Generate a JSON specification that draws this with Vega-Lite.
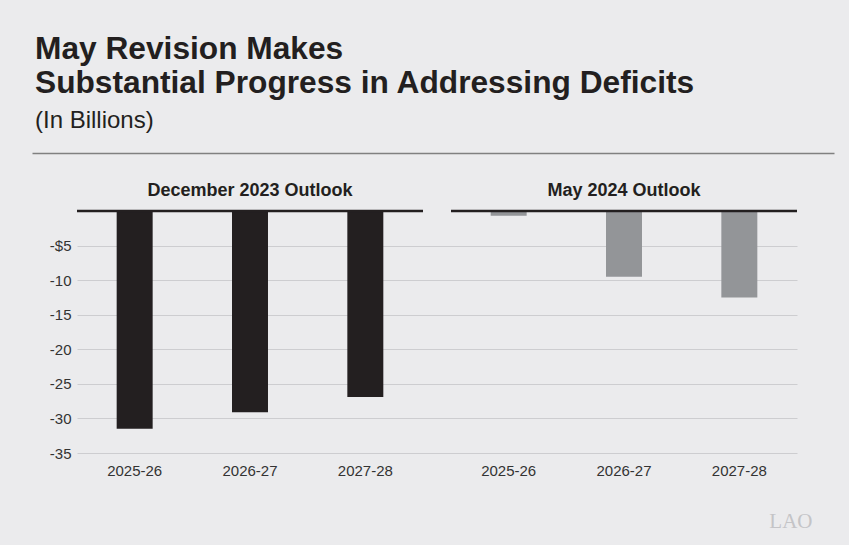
{
  "$schema": "https://vega.github.io/schema/vega-lite/v6.json",
  "width": 720,
  "height": 242,
  "autosize": {"type": "none"},
  "padding": {"left": 77, "top": 211, "right": 52, "bottom": 92},
  "background": "#ebebed",
  "config": {
    "view": {"stroke": null},
    "font": "Liberation Sans"
  },
  "title": {
    "text": ["May Revision Makes", "Substantial Progress in Addressing Deficits"],
    "subtitle": "(In Billions)",
    "anchor": "start",
    "frame": "bounds",
    "font": "Liberation Sans",
    "fontSize": 31.7,
    "fontWeight": "bold",
    "color": "#231f20",
    "lineHeight": 34,
    "subtitleFont": "Liberation Sans",
    "subtitleFontSize": 24,
    "subtitleColor": "#231f20",
    "subtitlePadding": 9,
    "offset": 20,
    "dx": 3
  },
  "datasets": {
    "bars": [
      {"outlook": "December 2023 Outlook", "year": "2025-26", "deficit": -31.5},
      {"outlook": "December 2023 Outlook", "year": "2026-27", "deficit": -29.1},
      {"outlook": "December 2023 Outlook", "year": "2027-28", "deficit": -26.9},
      {"outlook": "May 2024 Outlook", "year": "2025-26", "deficit": -0.7},
      {"outlook": "May 2024 Outlook", "year": "2026-27", "deficit": -9.5},
      {"outlook": "May 2024 Outlook", "year": "2027-28", "deficit": -12.5}
    ],
    "panels": [
      {"outlook": "December 2023 Outlook"},
      {"outlook": "May 2024 Outlook"}
    ],
    "one": [{"k": 1}]
  },
  "resolve": {"scale": {"x": "independent"}, "axis": {"x": "independent"}},
  "layer": [
    {
      "layer": [
        {
          "data": {"name": "bars"},
          "mark": {"type": "bar"},
          "encoding": {
            "x": {
              "field": "outlook",
              "type": "nominal",
              "sort": ["December 2023 Outlook", "May 2024 Outlook"],
              "scale": {"paddingInner": 0.0749, "paddingOuter": 0},
              "axis": {
                "orient": "top",
                "title": null,
                "domain": false,
                "ticks": false,
                "labelAngle": 0,
                "labelLimit": 0,
                "labelFont": "Liberation Sans",
                "labelFontSize": 18,
                "labelFontWeight": "bold",
                "labelColor": "#231f20",
                "labelPadding": 11.5
              }
            },
            "xOffset": {
              "field": "year",
              "type": "nominal",
              "scale": {"paddingInner": 0.688, "paddingOuter": 0.344}
            },
            "y": {
              "field": "deficit",
              "type": "quantitative",
              "scale": {"domain": [-35, 0], "nice": false, "zero": false},
              "axis": {
                "title": null,
                "values": [-35, -30, -25, -20, -15, -10, -5],
                "labelExpr": "datum.value == -5 ? '-$5' : '-' + abs(datum.value)",
                "domain": false,
                "ticks": false,
                "grid": true,
                "gridColor": "#cdcdd0",
                "gridWidth": 1,
                "labelFont": "Liberation Sans",
                "labelFontSize": 15,
                "labelColor": "#333333",
                "labelPadding": 6
              }
            },
            "color": {
              "field": "outlook",
              "type": "nominal",
              "scale": {"domain": ["December 2023 Outlook", "May 2024 Outlook"], "range": ["#231f20", "#939598"]},
              "legend": null
            }
          }
        },
        {
          "data": {"name": "panels"},
          "mark": {"type": "bar", "fill": "#231f20", "stroke": "#231f20", "strokeWidth": 2.5},
          "encoding": {
            "x": {"field": "outlook", "type": "nominal", "sort": ["December 2023 Outlook", "May 2024 Outlook"]},
            "y": {"datum": 0, "type": "quantitative"},
            "y2": {"datum": 0}
          }
        },
        {
          "data": {"name": "bars"},
          "mark": {"type": "text", "baseline": "top", "dy": 11, "fontSize": 15, "color": "#333333", "font": "Liberation Sans"},
          "encoding": {
            "x": {"field": "outlook", "type": "nominal", "sort": ["December 2023 Outlook", "May 2024 Outlook"]},
            "xOffset": {"field": "year", "type": "nominal"},
            "y": {"datum": -35, "type": "quantitative"},
            "text": {"field": "year"}
          }
        }
      ]
    },
    {
      "data": {"name": "one"},
      "mark": {"type": "rule", "opacity": 0},
      "encoding": {
        "x": {
          "datum": 0,
          "type": "quantitative",
          "scale": {"domain": [0, 1], "range": [-45, 757]},
          "axis": {
            "orient": "top",
            "offset": 58,
            "title": null,
            "labels": false,
            "ticks": false,
            "grid": false,
            "domain": true,
            "domainColor": "#808080",
            "domainWidth": 1.7
          }
        }
      }
    },
    {
      "data": {"name": "one"},
      "mark": {"type": "rule", "opacity": 0},
      "encoding": {
        "x": {
          "datum": 0,
          "type": "quantitative",
          "scale": {"domain": [0, 1], "range": [-45, 735]},
          "axis": {
            "orient": "bottom",
            "title": "LAO",
            "titleAnchor": "end",
            "titleFont": "Liberation Serif",
            "titleFontSize": 21,
            "titleFontWeight": "normal",
            "titleColor": "#c4c4c7",
            "titlePadding": 57,
            "labels": false,
            "ticks": false,
            "grid": false,
            "domain": false
          }
        }
      }
    }
  ]
}
